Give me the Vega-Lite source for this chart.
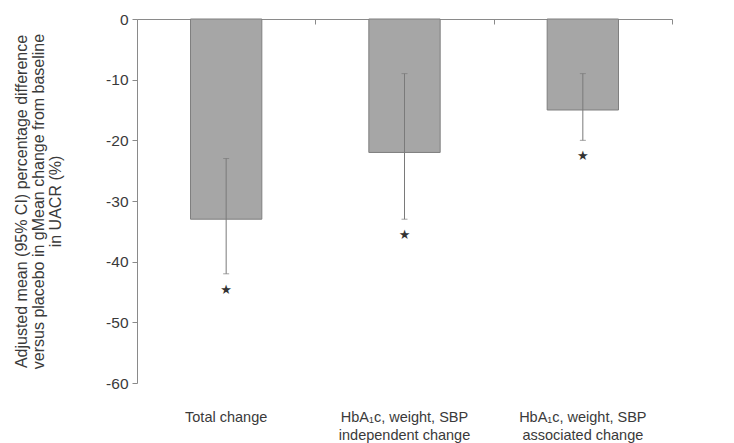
{
  "$schema": "https://vega.github.io/schema/vega-lite/v6.json",
  "autosize": "none",
  "width": 535,
  "height": 364,
  "padding": {"left": 137, "top": 19, "right": 62, "bottom": 60},
  "background": "white",
  "config": {
    "view": {"stroke": null},
    "font": "Liberation Sans",
    "axis": {"labelFont": "Liberation Sans", "titleFont": "Liberation Sans", "labelColor": "#3a3a3a", "titleColor": "#3a3a3a", "domainColor": "#8a8a8a", "tickColor": "#8a8a8a", "grid": false}
  },
  "data": {
    "values": [
      {"cat": "Total change", "mean": -33, "lower": -42, "upper": -23},
      {"cat": "HbA₁c, weight, SBP|independent change", "mean": -22, "lower": -33, "upper": -9},
      {"cat": "HbA₁c, weight, SBP|associated change", "mean": -15, "lower": -20, "upper": -9}
    ]
  },
  "encoding": {
    "x": {"field": "cat", "type": "nominal", "sort": null, "scale": {"paddingInner": 0, "paddingOuter": 0}}
  },
  "layer": [
    {
      "mark": {"type": "bar", "width": {"band": 0.4}, "color": "#a6a6a6", "stroke": "#7f7f7f", "strokeWidth": 1},
      "encoding": {
        "x": {"field": "cat", "type": "nominal", "sort": null, "scale": {"paddingInner": 0, "paddingOuter": 0},
          "axis": {"orient": "bottom", "title": null, "domain": false, "ticks": false, "labelAngle": 0, "labelFontSize": 14.5, "labelPadding": 27, "labelBaseline": "top", "labelLineHeight": 18, "labelExpr": "split(datum.label, '|')"}},
        "y": {"field": "mean", "type": "quantitative", "scale": {"domain": [-60, 0], "nice": false},
          "axis": {"values": [0, -10, -20, -30, -40, -50, -60], "tickSize": 5, "labelFontSize": 15.5, "labelPadding": 4,
            "labelExpr": "datum.value == 0 ? '0' : '-' + abs(datum.value)",
            "title": ["Adjusted mean (95% CI)  percentage difference", "versus placebo in gMean change from baseline", "in UACR (%)"],
            "titleFontSize": 16, "titleFontWeight": "normal", "titleLineHeight": 17, "titlePadding": 42}}
      }
    },
    {
      "mark": {"type": "rule", "color": "#7a7a7a", "strokeWidth": 1},
      "encoding": {
        "x": {"field": "cat", "type": "nominal", "sort": null,
          "axis": {"orient": "top", "title": null, "labels": false, "domain": true, "ticks": true, "tickBand": "extent", "tickSize": -5}},
        "y": {"field": "lower", "type": "quantitative"},
        "y2": {"field": "upper"}
      }
    },
    {
      "mark": {"type": "tick", "color": "#7a7a7a", "size": 6, "thickness": 1},
      "encoding": {"x": {"field": "cat", "type": "nominal", "sort": null, "axis": null}, "y": {"field": "lower", "type": "quantitative"}}
    },
    {
      "mark": {"type": "tick", "color": "#7a7a7a", "size": 6, "thickness": 1},
      "encoding": {"x": {"field": "cat", "type": "nominal", "sort": null, "axis": null}, "y": {"field": "upper", "type": "quantitative"}}
    },
    {
      "mark": {"type": "text", "text": "★", "font": "DejaVu Sans", "fontSize": 13, "color": "#333333", "baseline": "middle", "dy": 16},
      "encoding": {"x": {"field": "cat", "type": "nominal", "sort": null, "axis": null}, "y": {"field": "lower", "type": "quantitative"}}
    }
  ],
  "resolve": {"axis": {"x": "independent"}}
}
